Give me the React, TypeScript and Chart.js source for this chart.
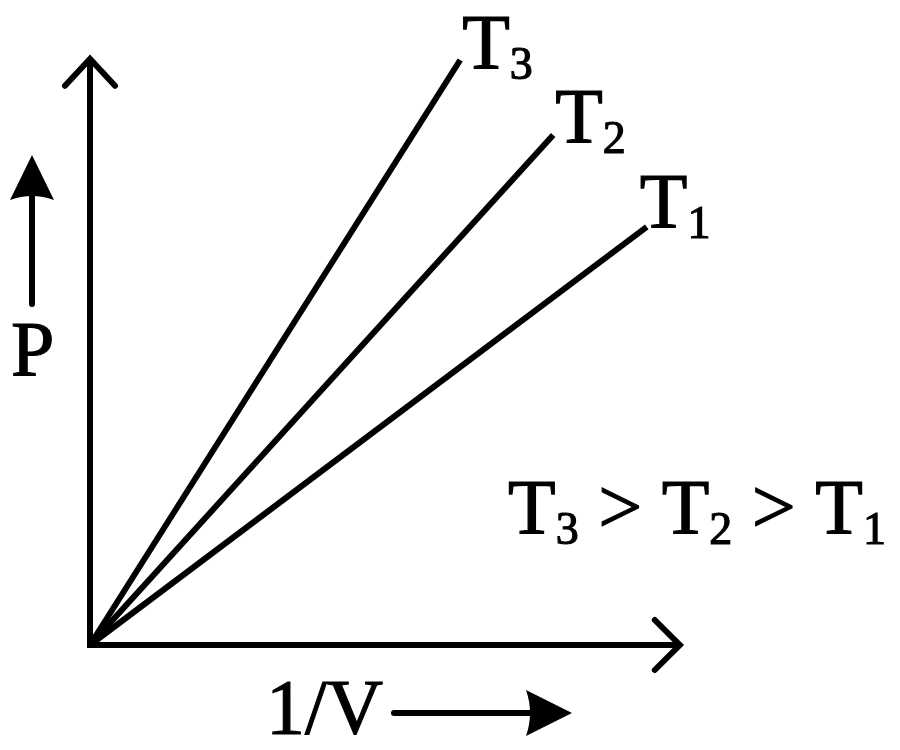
import { useEffect, useRef } from "react";
import { Chart, registerables } from "chart.js";
Chart.register(...registerables);

// 1/V values (x) and P values (y) at the end of each isotherm
const invV = [0, 6.17, 7.72, 9.28];
const seriesNames = ["T3", "T2", "T1"];
const endX = [6.17, 7.72, 9.28];
const endY = [9.75, 8.5, 6.97];
const subscripts = ["3", "2", "1"];
const axisEndX = 9.83;
const axisEndY = 9.77;

const FONT = '"Liberation Serif", "Times New Roman", serif';
const BIG = 78;
const SMALL = 46;

// text with a thin outline so the glyphs look as heavy as the scanned ones
const heavyText = (ctx: CanvasRenderingContext2D, s: string, x: number, y: number) => {
  ctx.fillText(s, x, y);
  ctx.strokeText(s, x, y);
};

const drawTLabel = (ctx: CanvasRenderingContext2D, x: number, y: number, sub: string) => {
  ctx.font = `${BIG}px ${FONT}`;
  heavyText(ctx, "T", x, y);
  const w = ctx.measureText("T").width;
  ctx.font = `${SMALL}px ${FONT}`;
  heavyText(ctx, sub, x + w, y + 11);
  return x + w + ctx.measureText(sub).width;
};

const sketchPlugin = {
  id: "sketch",
  beforeDatasetsDraw(chart: Chart) {
    const { ctx } = chart;
    const xs = chart.scales.x;
    const ys = chart.scales.y;
    const ox = xs.getPixelForValue(0);
    const oy = ys.getPixelForValue(0);
    const top = ys.getPixelForValue(axisEndY);
    const right = xs.getPixelForValue(axisEndX);
    ctx.save();
    ctx.strokeStyle = "#000";
    ctx.lineWidth = 6;
    ctx.lineJoin = "miter";
    ctx.beginPath();
    ctx.moveTo(ox, top);
    ctx.lineTo(ox, oy);
    ctx.lineTo(right, oy);
    ctx.stroke();
    // open arrow heads
    ctx.lineCap = "round";
    ctx.beginPath();
    ctx.moveTo(ox - 25, top + 27);
    ctx.lineTo(ox, top);
    ctx.lineTo(ox + 25, top + 27);
    ctx.moveTo(right - 25, oy - 25);
    ctx.lineTo(right, oy);
    ctx.lineTo(right - 25, oy + 25);
    ctx.stroke();
    ctx.restore();
  },
  afterDatasetsDraw(chart: Chart) {
    const { ctx } = chart;
    const xs = chart.scales.x;
    const ys = chart.scales.y;
    ctx.save();
    ctx.fillStyle = "#000";
    ctx.strokeStyle = "#000";
    ctx.lineWidth = 1.2;
    ctx.textBaseline = "alphabetic";
    const offsets = [
      [2, 8],
      [2, 7],
      [-7, 0],
    ];
    endX.forEach((v, i) => {
      const px = xs.getPixelForValue(v);
      const py = ys.getPixelForValue(endY[i]);
      drawTLabel(ctx, px + offsets[i][0], py + offsets[i][1], subscripts[i]);
    });

    // T3 > T2 > T1
    let x = 508;
    const y = 533;
    subscripts.forEach((s, i) => {
      x = drawTLabel(ctx, x, y, s);
      if (i < subscripts.length - 1) {
        ctx.font = `${BIG}px ${FONT}`;
        heavyText(ctx, " > ", x, y);
        x += ctx.measureText(" > ").width;
      }
    });

    // P with up arrow
    ctx.font = `${BIG}px ${FONT}`;
    heavyText(ctx, "P", 11, 375);
    ctx.lineWidth = 6;
    ctx.lineCap = "round";
    ctx.beginPath();
    ctx.moveTo(32, 304);
    ctx.lineTo(32, 195);
    ctx.stroke();
    ctx.beginPath();
    ctx.moveTo(32, 155);
    ctx.lineTo(54, 200);
    ctx.quadraticCurveTo(32, 192, 10, 200);
    ctx.closePath();
    ctx.fill();

    // 1/V with right arrow
    ctx.lineWidth = 1.2;
    heavyText(ctx, "1/V", 266, 733);
    ctx.lineWidth = 6;
    ctx.beginPath();
    ctx.moveTo(394, 713);
    ctx.lineTo(535, 713);
    ctx.stroke();
    ctx.beginPath();
    ctx.moveTo(572, 713);
    ctx.lineTo(526, 736);
    ctx.quadraticCurveTo(534, 713, 526, 690);
    ctx.closePath();
    ctx.fill();
    ctx.restore();
  },
};

const App = () => {
  const canvasRef = useRef<HTMLCanvasElement>(null);

  useEffect(() => {
    if (!canvasRef.current) return;
    const chart = new Chart(canvasRef.current, {
      type: "scatter",
      data: {
        datasets: seriesNames.map((name, i) => ({
          label: name,
          data: [
            { x: invV[0], y: 0 },
            { x: endX[i], y: endY[i] },
          ],
          showLine: true,
          borderColor: "#000",
          borderWidth: 6,
          pointRadius: 0,
          clip: false,
        })),
      },
      options: {
        responsive: false,
        animation: false,
        layout: { padding: { left: 90, right: 210, top: 45, bottom: 105 } },
        plugins: { legend: { display: false }, tooltip: { enabled: false } },
        scales: {
          x: { type: "linear", min: 0, max: 10, display: false },
          y: { type: "linear", min: 0, max: 10, display: false },
        },
      },
      plugins: [sketchPlugin],
    });
    return () => chart.destroy();
  }, []);

  return (
    <div style={{ position: "absolute", left: 0, top: 0, width: 900, height: 750, background: "#fff" }}>
      <canvas ref={canvasRef} width={900} height={750}></canvas>
    </div>
  );
};

export default App;
